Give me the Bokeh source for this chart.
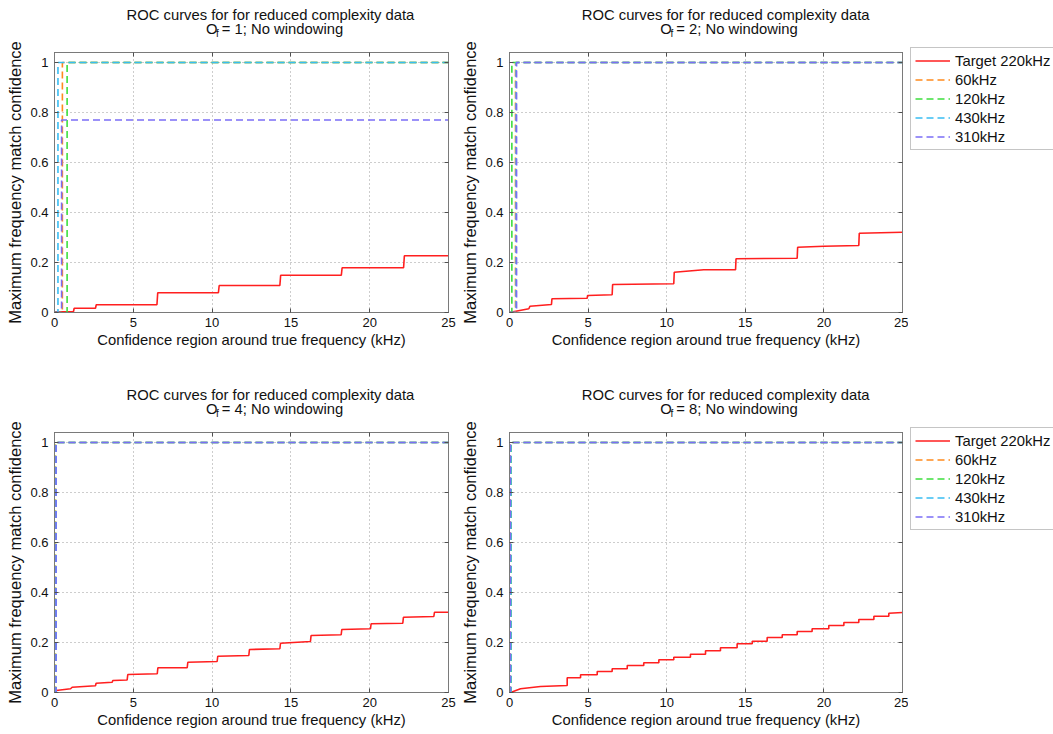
from bokeh.plotting import figure
from bokeh.models import (Range1d, FixedTicker, LinearAxis, NumeralTickFormatter,
                          CustomJSTickFormatter, Legend, LegendItem)
from bokeh.layouts import row, column
from bokeh.embed import file_html
from bokeh.resources import INLINE
from bokeh.core.properties import value

FONT = "Liberation Sans"

# ---------------- data ----------------
series_names = ["Target 220kHz", "60kHz", "120kHz", "430kHz", "310kHz"]
series_colors = ["#ff1f1f", "#ff8a1c", "#3ede3e", "#38bdf2", "#7b6df6"]
oversampling = [1, 2, 4, 8]
x_ticks = [0, 5, 10, 15, 20, 25]
y_ticks = [0, 0.2, 0.4, 0.6, 0.8, 1]
x_max = 25

# Target 220kHz curves (vertices)
of1_target_x = [0, 1.2, 1.25, 2.6, 2.65, 6.5, 6.55, 10.4, 10.45, 14.3, 14.35, 18.2, 18.25, 22.15, 22.2, 25]
of1_target_y = [0.003, 0.003, 0.017, 0.017, 0.031, 0.031, 0.079, 0.079, 0.108, 0.108, 0.149, 0.149, 0.179, 0.179, 0.227, 0.227]

of2_target_x = [0.06, 1.23, 1.3, 2.67, 2.7, 4.94, 4.97, 6.53, 6.56, 10.45, 10.48, 12.36, 14.38, 14.41, 18.3, 18.33, 20.0, 22.22, 22.25, 25]
of2_target_y = [0.001, 0.015, 0.025, 0.032, 0.055, 0.057, 0.068, 0.071, 0.112, 0.115, 0.161, 0.171, 0.171, 0.215, 0.217, 0.261, 0.265, 0.268, 0.317, 0.321]

of4_target_x = [0.06, 0.1, 1.02, 1.12, 2.6, 2.64, 3.66, 3.7, 4.61, 4.65, 6.52, 6.56, 8.42, 8.46, 10.32, 10.36, 12.33, 12.37,
                14.3, 14.34, 16.24, 16.28, 18.19, 18.23, 20.05, 20.09, 22.1, 22.14, 24.07, 24.11, 25]
of4_target_y = [0.001, 0.008, 0.015, 0.021, 0.027, 0.037, 0.041, 0.048, 0.05, 0.072, 0.075, 0.099, 0.099, 0.121, 0.124, 0.145, 0.148, 0.172,
                0.175, 0.197, 0.204, 0.228, 0.231, 0.252, 0.255, 0.275, 0.277, 0.301, 0.304, 0.321, 0.321]

of8_start_x = [0.11, 0.7, 1.97, 3.67]
of8_start_y = [0.001, 0.015, 0.024, 0.028]
of8_step_x = [3.67, 4.52, 5.58, 6.53, 7.49, 8.54, 9.5, 10.45, 11.51, 12.47, 13.42, 14.48, 15.44, 16.39, 17.35, 18.3,
              19.25, 20.31, 21.27, 22.22, 23.18, 24.13]
of8_step_y = [0.059, 0.071, 0.084, 0.095, 0.108, 0.119, 0.131, 0.141, 0.153, 0.167, 0.179, 0.195, 0.205, 0.22, 0.231, 0.244,
              0.255, 0.268, 0.28, 0.292, 0.305, 0.317]
of8_end_y = 0.32

# comparison frequencies: position of the jump and the level reached (60, 120, 430, 310 kHz)
of1_jump_x = [0.5, 0.8, 0.22, 0.45]
of1_level = [1, 1, 1, 0.77]
of2_jump_x = [0.38, 0.15, 0.42, 0.45]
of2_level = [1, 1, 1, 1]
of4_jump_x = [0.06, 0.08, 0.1, 0.1]
of4_level = [1, 1, 1, 1]
of8_jump_x = [0.05, 0.1, 0.08, 0.06]
of8_level = [1, 1, 1, 1]


def step_vertices(start_x, start_y, sx, sy, end_y, xend):
    xs, ys = list(start_x), list(start_y)
    prev = ys[-1]
    for x, y in zip(sx, sy):
        xs += [x, x]
        ys += [prev, y]
        prev = y
    xs.append(xend)
    ys.append(end_y)
    return xs, ys


of8_target_x, of8_target_y = step_vertices(of8_start_x, of8_start_y, of8_step_x, of8_step_y, of8_end_y, x_max)

panels = [
    (of1_target_x, of1_target_y, of1_jump_x, of1_level),
    (of2_target_x, of2_target_y, of2_jump_x, of2_level),
    (of4_target_x, of4_target_y, of4_jump_x, of4_level),
    (of8_target_x, of8_target_y, of8_jump_x, of8_level),
]

# ---------------- layout constants ----------------
FH = 260
LEFT_W = 458
RIGHT_W = 51 + 393 + 6
LEGEND_W = 1053 - LEFT_W - RIGHT_W
TITLE_H = 40
TXT = "14.8px"
BOX = "#7a7a7a"
DASH = "7 4"


def style_axis(ax, labels=True):
    ax.axis_line_color = BOX
    ax.major_tick_line_color = "#505050"
    ax.major_tick_in = 4
    ax.major_tick_out = 0
    ax.minor_tick_line_color = None
    ax.major_label_text_font = FONT
    ax.major_label_text_color = "#111111"
    ax.axis_label_text_font = FONT
    ax.axis_label_text_font_style = "normal"
    ax.axis_label_text_color = "#111111"
    if not labels:
        ax.formatter = CustomJSTickFormatter(code="return ''")
        ax.major_label_text_font_size = "1px"
        ax.major_label_standoff = 0


def make_panel(idx, right_col):
    tx, ty, jx, lv = panels[idx]
    left_border = 51 if right_col else 54
    W = RIGHT_W if right_col else LEFT_W
    fw = 393 if right_col else 394
    right_border = W - left_border - fw
    top_row = idx < 2
    bottom_border = 68 if top_row else 42
    p = figure(width=W, height=12 + FH + bottom_border, min_border_left=left_border,
               min_border_right=right_border, min_border_top=12,
               min_border_bottom=bottom_border,
               x_range=Range1d(0, x_max), y_range=Range1d(0, 1.04),
               toolbar_location=None, output_backend="svg",
               background_fill_color="white", border_fill_color="white")
    p.outline_line_color = BOX
    p.xaxis.ticker = FixedTicker(ticks=x_ticks)
    p.yaxis.ticker = FixedTicker(ticks=y_ticks)
    p.yaxis.formatter = NumeralTickFormatter(format="0.[0]")
    for ax in p.xaxis + p.yaxis:
        style_axis(ax)
    p.xaxis.major_label_text_font_size = "13px"
    p.yaxis.major_label_text_font_size = "13px"
    p.xaxis.major_label_standoff = 5
    p.yaxis.major_label_standoff = 6
    p.xaxis.axis_label = "Confidence region around true frequency (kHz)"
    p.xaxis.axis_label_text_font_size = TXT
    p.xaxis.axis_label_standoff = 2
    p.yaxis.axis_label = "Maximum frequency match confidence"
    p.yaxis.axis_label_text_font_size = "16.5px"
    p.yaxis.axis_label_standoff = 3
    top_ax = LinearAxis(ticker=FixedTicker(ticks=x_ticks))
    right_ax = LinearAxis(ticker=FixedTicker(ticks=y_ticks))
    style_axis(top_ax, labels=False)
    style_axis(right_ax, labels=False)
    p.add_layout(top_ax, "above")
    p.add_layout(right_ax, "right")
    p.xgrid.ticker = FixedTicker(ticks=x_ticks)
    p.ygrid.ticker = FixedTicker(ticks=y_ticks)
    p.grid.grid_line_color = "#9a9a9a"
    p.grid.grid_line_dash = "1 3"
    p.grid.grid_line_width = 1

    p.line(tx, ty, line_color=series_colors[0], line_width=1.6)
    for k in range(4):
        xs = [0, jx[k], jx[k], x_max]
        ys = [0, 0, lv[k], lv[k]]
        p.line(xs, ys, line_color=series_colors[k + 1], line_width=1.6, line_dash=DASH)

    # title strip
    t = figure(width=W, height=TITLE_H, x_range=Range1d(0, W), y_range=Range1d(0, TITLE_H),
               min_border=0, toolbar_location=None, output_backend="svg",
               x_axis_location=None, y_axis_location=None)
    t.outline_line_color = None
    t.grid.visible = False
    cx = left_border + fw / 2
    t.text(x=[cx], y=[25.5], text=["ROC curves for for reduced complexity data"],
           text_align="center", text_baseline="alphabetic", text_font=value(FONT),
           text_font_size=value(TXT), text_color="#111111")
    x0 = cx - 75
    t.text(x=[x0], y=[11.5], text=["O"], text_align="left", text_baseline="alphabetic",
           text_font=value(FONT), text_font_size=value(TXT), text_color="#111111")
    t.text(x=[x0 + 11.8], y=[7.5], text=["f"], text_align="left", text_baseline="alphabetic",
           text_font=value(FONT), text_font_size=value("10px"), text_color="#111111")
    t.text(x=[x0 + 18.5], y=[11.5], text=["= %d; No windowing" % oversampling[idx]], text_align="left",
           text_baseline="alphabetic", text_font=value(FONT), text_font_size=value(TXT),
           text_color="#111111")
    return column(t, p, spacing=0)


def make_legend_fig(height):
    lf = figure(width=LEGEND_W, height=height, x_range=Range1d(0, 1), y_range=Range1d(0, 1),
                min_border=0, toolbar_location=None, output_backend="svg",
                x_axis_location=None, y_axis_location=None)
    lf.outline_line_color = None
    lf.grid.visible = False
    # proxy renderers placed outside the visible range; only their legend samples show
    proxy_x = [-3, -2]
    proxy_y = [-3, -3]
    rs = [lf.line(proxy_x, proxy_y, line_color=series_colors[0], line_width=1.6)]
    for k in range(4):
        rs.append(lf.line(proxy_x, proxy_y, line_color=series_colors[k + 1], line_width=1.6, line_dash=DASH))
    legend = Legend(items=[LegendItem(label=n, renderers=[rr]) for n, rr in zip(series_names, rs)])
    legend.label_text_font = FONT
    legend.label_text_font_size = TXT
    legend.label_text_color = "#111111"
    legend.label_height = 17
    legend.glyph_height = 17
    legend.glyph_width = 35
    legend.label_standoff = 5
    legend.padding = 4
    legend.spacing = 2
    legend.margin = 0
    legend.border_line_color = "#8c8c8c"
    legend.border_line_width = 1
    legend.background_fill_color = "white"
    legend.background_fill_alpha = 1
    legend.location = (2, height - 49 - 101)
    lf.add_layout(legend)
    return lf


page = column(
    row(make_panel(0, False), make_panel(1, True), make_legend_fig(TITLE_H + 340), spacing=0),
    row(make_panel(2, False), make_panel(3, True), make_legend_fig(TITLE_H + 314), spacing=0),
    spacing=0,
)

open("out.html", "w").write(file_html(page, INLINE))
